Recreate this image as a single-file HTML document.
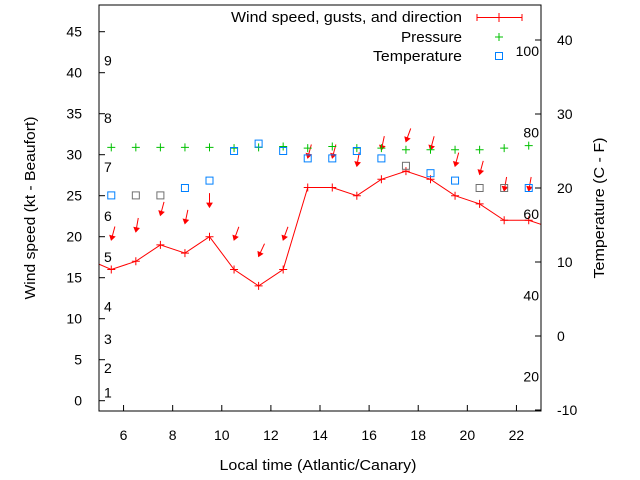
<!DOCTYPE html>
<html><head><meta charset="utf-8"><style>
body{margin:0;background:#fff}
svg{display:block;font-family:"Liberation Sans",sans-serif;font-size:15px}
.tk{font-size:14px}
</style></head><body>
<svg id="c" width="640" height="480" viewBox="0 0 640 480">
<rect width="640" height="480" fill="#fff"/>
<g id="g"></g>
</svg>
<script>
const hours=[5.5,6.5,7.5,8.5,9.5,10.5,11.5,12.5,13.5,14.5,15.5,16.5,17.5,18.5,19.5,20.5,21.5,22.5];
const lineHours=[4.5,5.5,6.5,7.5,8.5,9.5,10.5,11.5,12.5,13.5,14.5,15.5,16.5,17.5,18.5,19.5,20.5,21.5,22.5,23.5];
const windSpeed=[17.3,16,17,19,18,20,16,14,16,26,26,25,27,28,27,25,24,22,22,21];
const gusts=[19.6,20.6,22.6,21.6,23.6,19.6,17.6,19.6,29.6,29.6,28.6,30.6,31.6,30.6,28.6,27.6,25.6,25.6];
const windDir=[15,10,15,12,0,20,25,20,15,15,10,12,20,15,15,15,10,10];
const pressure=[30.9,30.9,30.9,30.9,30.9,30.8,30.9,31.0,30.8,31.0,30.8,30.8,30.6,30.6,30.6,30.6,30.8,31.1];
const temperature=[19,19,19,20,21,25,26,25,24,24,25,24,23,22,21,20,20,20];
const tempGray=[0,1,1,0,0,0,0,0,0,0,0,0,1,0,0,1,1,0];
const xTicks=[6,8,10,12,14,16,18,20,22];
const yTicks=[0,5,10,15,20,25,30,35,40,45];
const tTicks=[-10,0,10,20,30,40];
const beaufort=[[1,1],[2,4],[3,7.5],[4,11.5],[5,17.5],[6,22.5],[7,28.5],[8,34.5],[9,41.5]];
const fahr=[[20,-5.5],[40,5.5],[60,16.5],[80,27.5],[100,38.5]];

const L=99,R=541,T=5,B=411;
const X=v=>L+(v-5)/(23-5)*(R-L);
const Y=v=>400.7-v*8.2;
const TY=v=>410-(v+10)*7.4;
const g=document.getElementById('g');
const NS='http://www.w3.org/2000/svg';
function mk(tag,a,parent){const e=document.createElementNS(NS,tag);for(const k in a)e.setAttribute(k,a[k]);(parent||g).appendChild(e);return e;}
function txt(s,x,y,anchor,name,len){const e=mk('text',{x:x,y:y,'text-anchor':anchor||'start',fill:'#000'});if(len){e.setAttribute('textLength',len);e.setAttribute('lengthAdjust','spacingAndGlyphs');}else{e.setAttribute('class','tk');}e.textContent=s;return e;}

const defs=mk('defs',{});const cp=mk('clipPath',{id:'cl'},defs);mk('rect',{x:L,y:T,width:R-L,height:B-T},cp);
const plot=mk('g',{'clip-path':'url(#cl)'});



const frame=mk('rect',{x:L,y:T,width:R-L,height:B-T,fill:'none',stroke:'#000','stroke-width':1});


xTicks.forEach(v=>{mk('line',{x1:X(v),x2:X(v),y1:B,y2:B-6,stroke:'#000'});txt(String(v),X(v),440,'middle','x-tick-label');});
yTicks.forEach(v=>{mk('line',{x1:L,x2:L+6,y1:Y(v),y2:Y(v),stroke:'#000'});txt(String(v),82,Y(v)+5,'end','y-tick-label');});
tTicks.forEach(v=>{mk('line',{x1:R,x2:R-6,y1:TY(v),y2:TY(v),stroke:'#000'});txt(String(v),557,TY(v)+5,'start','temp-tick-label');});
beaufort.forEach(b=>txt(String(b[0]),104,Y(b[1])+5,'start','beaufort-label'));
fahr.forEach(f=>txt(String(f[0]),539,TY(f[1])+5,'end','fahrenheit-label'));

let d='';lineHours.forEach((h,i)=>{d+=(i?'L':'M')+X(h)+','+Y(windSpeed[i]);});
const wl=mk('path',{d:d,fill:'none',stroke:'#f00','stroke-width':1},plot);


lineHours.forEach((h,i)=>{const x=X(h),y=Y(windSpeed[i]);const p=mk('path',{d:`M${x-4},${y}h8M${x},${y-4}v8`,stroke:'#f00'},plot);});
hours.forEach((h,i)=>{const x=X(h),y=Y(gusts[i]);const a=windDir[i]*Math.PI/180;const tx=x+14*Math.sin(a),ty=y-14*Math.cos(a);
 const ar=mk('g',{},plot);
 mk('line',{x1:tx,y1:ty,x2:x,y2:y,stroke:'#f00','stroke-width':1},ar);
 const px=-Math.cos(a),py=-Math.sin(a);const bx=x+4*Math.sin(a),by=y-4*Math.cos(a);
 mk('path',{d:`M${x},${y}L${bx+2.5*px},${by+2.5*py}L${bx-2.5*px},${by-2.5*py}Z`,fill:'#f00',stroke:'#f00'},ar);});
hours.forEach((h,i)=>{const x=X(h),y=Y(pressure[i]);const p=mk('path',{d:`M${x-4},${y}h8M${x},${y-4}v8`,stroke:'#00c000'},plot);});
hours.forEach((h,i)=>{const x=X(h),y=TY(temperature[i]);const r=mk('rect',{x:x-3.5,y:y-3.5,width:7,height:7,fill:'none',stroke:tempGray[i]?'#707070':'#0080ff','stroke-width':1},plot);});

txt('Wind speed, gusts, and direction',462,22,'end','legend-wind-label',231);
mk('path',{d:'M477,17.5H522M477,14v7M522,14v7M499,13v9',stroke:'#f00'});
txt('Pressure',462,42,'end','legend-pressure-label',61);
mk('path',{d:'M495,37h8M499,33v8',stroke:'#00c000'});
txt('Temperature',462,61,'end','legend-temperature-label',89);
mk('rect',{x:495.5,y:52.5,width:7,height:7,fill:'none',stroke:'#0080ff'});

txt('Local time (Atlantic/Canary)',318,470,'middle','x-axis-title',197);
const yt=txt('Wind speed (kt - Beaufort)',0,0,'middle','y-axis-title',183);yt.setAttribute('transform','translate(35,208) rotate(-90)');
const tt=txt('Temperature (C - F)',0,0,'middle','temp-axis-title',141);tt.setAttribute('transform','translate(604,208) rotate(-90)');
</script>
</body></html>
